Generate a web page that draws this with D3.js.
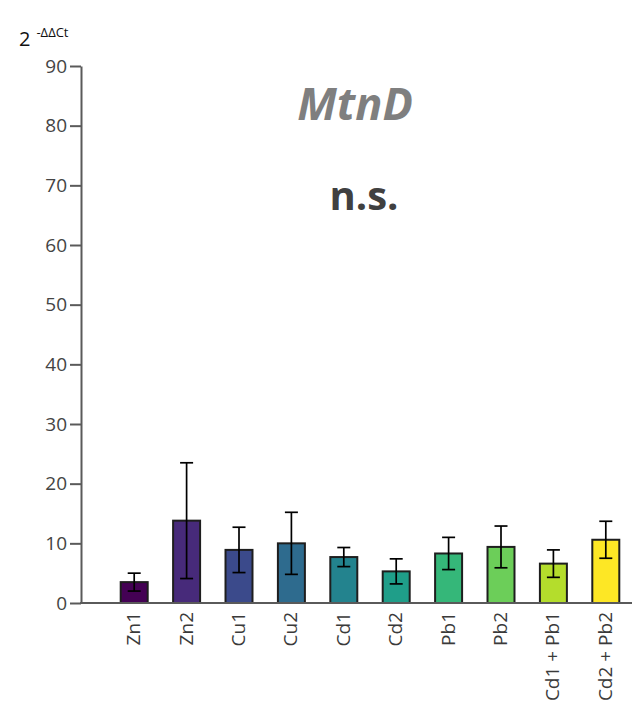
<!DOCTYPE html>
<html>
<head>
<meta charset="utf-8">
<script src="https://cdn.jsdelivr.net/npm/d3@7"></script>
<style>
  html, body { margin: 0; padding: 0; background: #fff; }
  svg { display: block; }
  text { font-family: "Open Sans", "Segoe UI", sans-serif; }
</style>
</head>
<body>
<svg id="chart" width="632" height="713"></svg>
<script>
// Relative MtnD expression per treatment group (mean ± SD)
const groups = ["Zn1", "Zn2", "Cu1", "Cu2", "Cd1", "Cd2", "Pb1", "Pb2", "Cd1 + Pb1", "Cd2 + Pb2"];
const means  = [3.5, 13.8, 8.9, 10.0, 7.7, 5.3, 8.3, 9.4, 6.6, 10.6];
const errors = [1.5, 9.7, 3.8, 5.2, 1.6, 2.1, 2.7, 3.5, 2.3, 3.1];
const barColors = ["#440154", "#472a7a", "#3b4a8b", "#2e6b8e", "#23838e", "#1f9e89", "#35b779", "#6cce59", "#b4dd2c", "#fde725"];
const yTicks = [0, 10, 20, 30, 40, 50, 60, 70, 80, 90];

const svg = d3.select("#chart");
const axisColor = "#5a5a5a";
const x0 = 81, y0 = 603, yTop = 66, xEnd = 632;

const x = d3.scaleBand()
  .domain(groups)
  .range([108, 632])
  .paddingInner(0.485)
  .paddingOuter(0.2425);

const y = d3.scaleLinear().domain([0, 90]).range([y0, yTop]);

// y axis
const yAxis = svg.append("g")
  .attr("transform", `translate(${x0},0)`)
  .call(d3.axisLeft(y).tickValues(yTicks).tickSize(11).tickPadding(3).tickSizeOuter(0));
yAxis.select(".domain").attr("stroke", axisColor).attr("stroke-width", 2);
yAxis.selectAll(".tick line").attr("stroke", axisColor).attr("stroke-width", 2);
yAxis.selectAll(".tick text")
  .attr("fill", "#444")
  .style("font-size", "19px")
  .style("font-family", "'Open Sans', sans-serif");

// bars
svg.append("g").selectAll("rect")
  .data(groups)
  .join("rect")
  .attr("x", d => x(d))
  .attr("width", x.bandwidth())
  .attr("y", (d, i) => y(means[i]))
  .attr("height", (d, i) => y(0) - y(means[i]))
  .attr("fill", (d, i) => barColors[i])
  .attr("stroke", "#1e1e1e")
  .attr("stroke-width", 2);

// error bars
const cap = 13;
const eb = svg.append("g").attr("stroke", "#000").attr("stroke-width", 1.7);
groups.forEach((g, i) => {
  const cx = x(g) + x.bandwidth() / 2;
  const hi = y(means[i] + errors[i]);
  const lo = y(means[i] - errors[i]);
  eb.append("line").attr("x1", cx).attr("x2", cx).attr("y1", hi).attr("y2", lo);
  eb.append("line").attr("x1", cx - cap / 2).attr("x2", cx + cap / 2).attr("y1", hi).attr("y2", hi);
  eb.append("line").attr("x1", cx - cap / 2).attr("x2", cx + cap / 2).attr("y1", lo).attr("y2", lo);
});

// x axis baseline
svg.append("line")
  .attr("x1", x0 - 1).attr("x2", xEnd)
  .attr("y1", y0).attr("y2", y0)
  .attr("stroke", axisColor).attr("stroke-width", 2);

// rotated category labels
svg.append("g").selectAll("text")
  .data(groups)
  .join("text")
  .attr("transform", d => `translate(${x(d) + x.bandwidth() / 2 + 6},${y0 + 9}) rotate(-90)`)
  .attr("text-anchor", "end")
  .attr("fill", "#3a3a3a")
  .style("font-size", "19px")
  .text(d => d);

// y axis title: 2^-ΔΔCt
const yt = svg.append("text").attr("x", 19).attr("y", 46).attr("fill", "#111");
yt.append("tspan").style("font-size", "20px").text("2");
yt.append("tspan").attr("dx", 6).attr("dy", -9).style("font-size", "13px").text("-ΔΔCt");

// gene name and significance
svg.append("text")
  .attr("x", 355).attr("y", 120)
  .attr("text-anchor", "middle")
  .attr("fill", "#7f7f7f")
  .style("font-size", "45px")
  .style("font-weight", "bold")
  .style("font-style", "italic")
  .text("MtnD");

svg.append("text")
  .attr("x", 364).attr("y", 210)
  .attr("text-anchor", "middle")
  .attr("fill", "#404040")
  .style("font-size", "40px")
  .style("font-weight", "bold")
  .text("n.s.");
</script>
</body>
</html>
